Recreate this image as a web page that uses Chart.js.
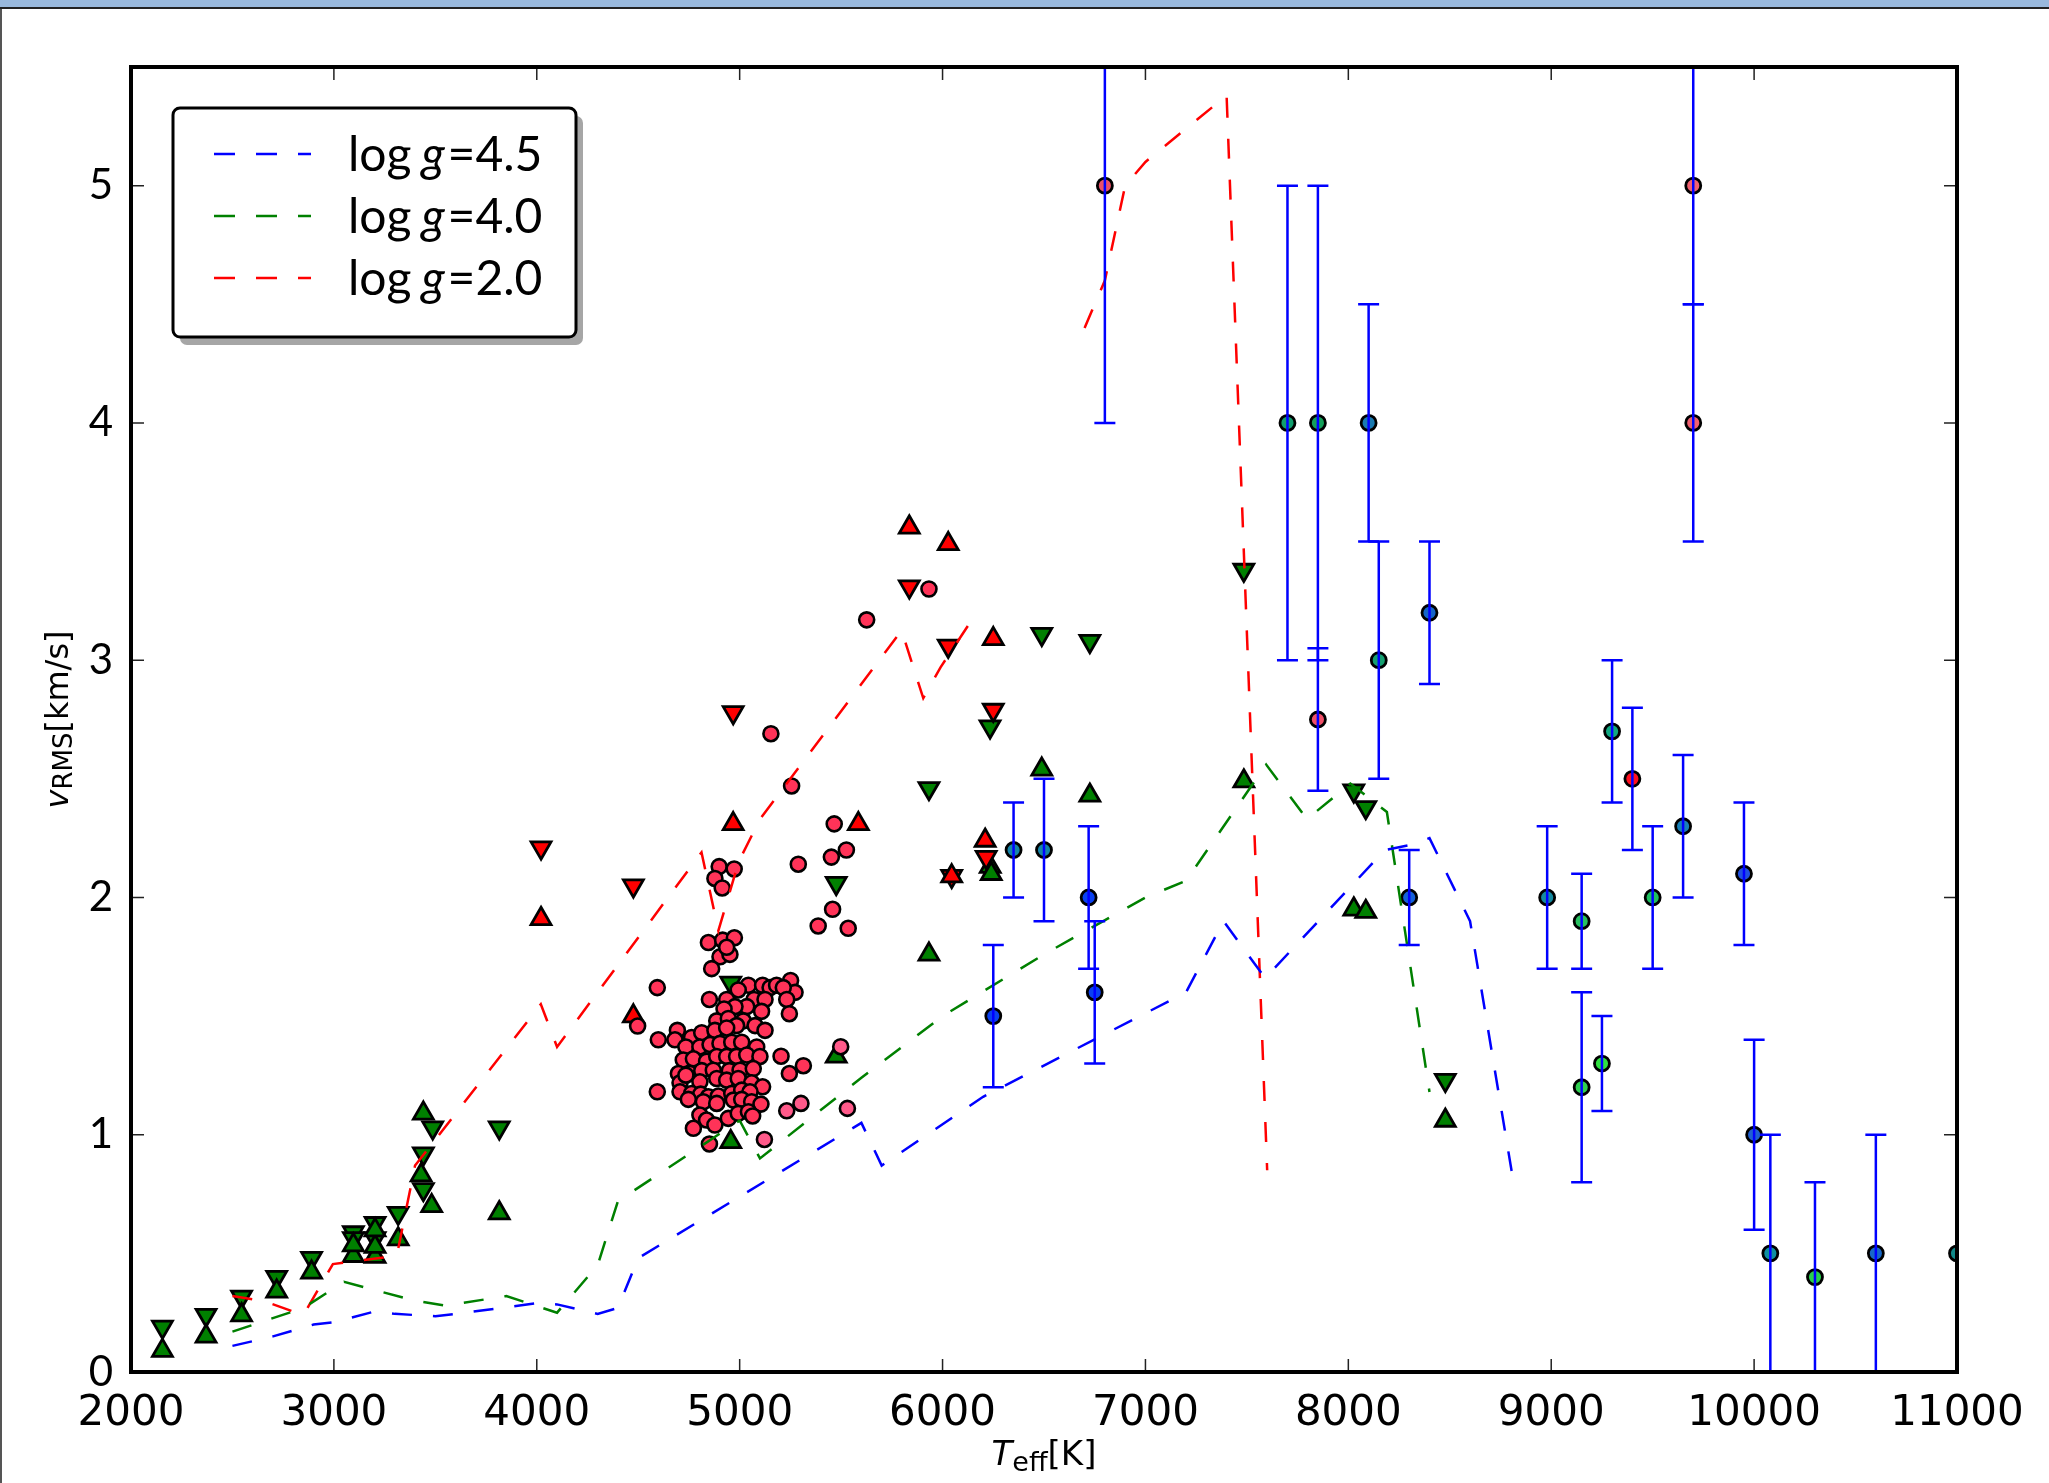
<!DOCTYPE html>
<html>
<head>
<meta charset="utf-8">
<script src="https://cdn.jsdelivr.net/npm/chart.js@4.4.1/dist/chart.umd.min.js"></script>
<style>
  html, body { margin: 0; padding: 0; background: #fff; }
  #wrap { position: relative; width: 2049px; height: 1483px; overflow: hidden; }
  #chart { position: absolute; left: 0; top: 0; }
  #topbar { position: absolute; left: 0; top: 0; width: 2049px; height: 7px; background: #99b9dd; border-bottom: 2px solid #222; }
  #leftbar { position: absolute; left: 0; top: 9px; width: 2px; height: 1474px; background: #555; }
</style>
</head>
<body>
<div id="wrap">
  <canvas id="chart" width="2049" height="1483"></canvas>
  <div id="topbar"></div>
  <div id="leftbar"></div>
</div>
<script>
// axis ticks
const xTicks = [2000, 3000, 4000, 5000, 6000, 7000, 8000, 9000, 10000, 11000];
const yTicks = [0, 1, 2, 3, 4, 5];

// model curves (Teff, vRMS)
const legendLabels = ['log g=4.5', 'log g=4.0', 'log g=2.0'];
const model45T = [2500, 2700, 2800, 2900, 3000, 3200, 3300, 3500, 3600, 4000, 4100, 4300, 4400, 4500, 5600, 5700, 6200, 7200, 7385, 7590, 8180, 8300, 8400, 8600, 8810];
const model45V = [0.11, 0.15, 0.175, 0.20, 0.21, 0.255, 0.245, 0.235, 0.245, 0.29, 0.285, 0.245, 0.27, 0.48, 1.05, 0.87, 1.16, 1.60, 1.90, 1.66, 2.20, 2.22, 2.25, 1.90, 0.82];
const model40T = [2500, 2850, 3050, 3400, 3550, 3850, 4100, 4300, 4400, 5000, 5100, 5600, 6000, 6500, 7000, 7200, 7595, 7796, 8010, 8190, 8400];
const model40V = [0.17, 0.27, 0.38, 0.30, 0.28, 0.32, 0.25, 0.45, 0.72, 1.06, 0.90, 1.24, 1.50, 1.76, 2.00, 2.07, 2.56, 2.33, 2.48, 2.36, 1.18];
const model20T = [2500, 2650, 2850, 2995, 3310, 3400, 4020, 4100, 4812, 4895, 4995, 5100, 5798, 5905, 5990, 6160, 6400, 6700, 6800, 6900, 7000, 7400, 7600];
const model20V = [0.32, 0.30, 0.24, 0.455, 0.49, 0.87, 1.55, 1.37, 2.19, 1.86, 2.15, 2.33, 3.125, 2.84, 2.97, 3.19, null, 4.40, 4.60, 5.00, 5.10, 5.38, 0.85];

// green triangles
const greenUpT = [2155, 2370, 2545, 2718, 2890, 3096, 3096, 3203, 3203, 3203, 3317, 3430, 3441, 3482, 3815, 4956, 5476, 5933, 6235, 6240, 6489, 6726, 7485, 8027, 8086, 8478];
const greenUpV = [0.09, 0.15, 0.24, 0.34, 0.42, 0.49, 0.535, 0.486, 0.528, 0.598, 0.56, 0.83, 1.09, 0.70, 0.67, 0.97, 1.33, 1.76, 2.13, 2.10, 2.54, 2.43, 2.49, 1.95, 1.94, 1.06];
const greenDownT = [2155, 2370, 2545, 2718, 2890, 3096, 3096, 3203, 3203, 3317, 3441, 3441, 3487, 3815, 4956, 5476, 5933, 6234, 6489, 6726, 7485, 8027, 8086, 8478];
const greenDownV = [0.19, 0.24, 0.317, 0.40, 0.48, 0.588, 0.563, 0.627, 0.563, 0.67, 0.92, 0.77, 1.03, 1.03, 1.64, 2.06, 2.46, 2.72, 3.11, 3.08, 3.38, 2.45, 2.38, 1.23];

// red triangles
const redUpT = [4021, 4476, 4968, 5585, 5836, 6028, 6045, 6210, 6250];
const redUpV = [1.91, 1.50, 2.31, 2.31, 3.56, 3.49, 2.09, 2.24, 3.09];
const redDownT = [4021, 4476, 4968, 5836, 6028, 6045, 6215, 6250];
const redDownV = [2.21, 2.05, 2.78, 3.31, 3.06, 2.09, 2.17, 2.79];

// red circles
const circT = [4846, 4916, 4974, 4903, 4952, 4936, 4862, 4594, 5043, 5113, 5150, 5182, 5251, 5273, 4993, 5215,
  4851, 4936, 5071, 5125, 5232, 5245, 5108, 5035, 4977, 4923, 4887, 4944, 5018, 5076, 5125, 4985,
  4693, 4599, 4681, 4763, 4813, 4878, 4936, 4735, 4804, 4854, 4903, 4961, 5010, 5084,
  4722, 4772, 4837, 4887, 4936, 4985, 5035, 5100, 4698, 4755, 4813, 4870, 4949, 5002, 5067,
  4706, 4735, 4804, 4887, 4936, 4993, 5059, 5113, 4706, 4763, 4808, 4846, 4895, 4961, 5010, 5051,
  4747, 4821, 4887, 4969, 5010, 5059, 5105, 4804, 4837, 4878, 4944, 4993, 5043, 5064, 4772, 4851,
  5204, 5314, 5245, 4594, 4497,
  4899, 4973, 4878, 4914, 5154, 5256, 5466, 5526, 5452, 5289, 5458, 5387, 5535, 5626, 5933];
const circV = [1.81, 1.82, 1.83, 1.75, 1.76, 1.79, 1.70, 1.62, 1.63, 1.63, 1.62, 1.63, 1.65, 1.60, 1.61, 1.62,
  1.57, 1.57, 1.57, 1.57, 1.57, 1.51, 1.52, 1.54, 1.54, 1.53, 1.48, 1.49, 1.48, 1.46, 1.44, 1.46,
  1.44, 1.40, 1.40, 1.41, 1.43, 1.44, 1.45, 1.37, 1.37, 1.38, 1.385, 1.39, 1.39, 1.37,
  1.315, 1.32, 1.31, 1.33, 1.33, 1.33, 1.336, 1.33, 1.258, 1.258, 1.27, 1.272, 1.27, 1.272, 1.279,
  1.219, 1.251, 1.223, 1.237, 1.23, 1.237, 1.219, 1.202, 1.181, 1.174, 1.171, 1.16, 1.163, 1.174, 1.188, 1.181,
  1.149, 1.139, 1.132, 1.146, 1.149, 1.139, 1.129, 1.083, 1.062, 1.041, 1.069, 1.09, 1.097, 1.079, 1.027, 0.961,
  1.331, 1.291, 1.258, 1.181, 1.458,
  2.13, 2.12, 2.08, 2.04, 2.69, 2.47, 2.31, 2.20, 2.17, 2.14, 1.95, 1.88, 1.87, 3.17, 3.30];
const pinkT = [5498, 5232, 5302, 5531, 5122];
const pinkV = [1.371, 1.101, 1.132, 1.111, 0.98];

// points with error bars
const errT = [6800, 7700, 7850, 7850, 8100, 8150, 8400, 8300, 6350, 6500, 6720, 6750, 6250, 8980, 9150, 9150, 9250, 9300, 9400, 9500, 9650, 9700, 9700, 9950, 10000, 10080, 10300, 10600, 11000];
const errV = [5.0, 4.0, 4.0, 2.75, 4.0, 3.0, 3.2, 2.0, 2.2, 2.2, 2.0, 1.6, 1.5, 2.0, 1.9, 1.2, 1.3, 2.7, 2.5, 2.0, 2.3, 5.0, 4.0, 2.1, 1.0, 0.5, 0.4, 0.5, 0.5];
const errLo = [4.0, 3.0, 3.0, 2.45, 3.5, 2.5, 2.9, 1.8, 2.0, 1.9, 1.7, 1.3, 1.2, 1.7, 1.7, 0.8, 1.1, 2.4, 2.2, 1.7, 2.0, 4.5, 3.5, 1.8, 0.6, 0.0, 0.0, 0.0, 0.5];
const errHi = [6.0, 5.0, 5.0, 3.05, 4.5, 3.5, 3.5, 2.2, 2.4, 2.5, 2.3, 1.9, 1.8, 2.3, 2.1, 1.6, 1.5, 3.0, 2.8, 2.3, 2.6, 5.5, 4.5, 2.4, 1.4, 1.0, 0.8, 1.0, 0.5];

const errColors = ['#e8506a', '#119e6e', '#14a05a', '#f05068', '#1a7ab0', '#16a070', '#1565c8', '#1560d8', '#1685a8', '#1685a8',
  '#0a40f0', '#0a40f0', '#0a40f0', '#158aa0', '#28c060', '#30d050', '#30e040', '#10a880', '#ff1020', '#20c060',
  '#1880b8', '#f06070', '#f06070', '#2050e0', '#2060d0', '#1090a0', '#28d050', '#1868c8', '#108888'];

const pts = (xs, ys) => xs.map((x, i) => ({ x: x, y: ys[i] }));

function modelLine(label, xs, ys, color) {
  return {
    label: label,
    data: pts(xs, ys),
    showLine: true,
    borderColor: color,
    borderWidth: 2.5,
    borderDash: [20, 21],
    pointRadius: 0,
    tension: 0,
    spanGaps: false,
    fill: false,
  };
}

function markers(xs, ys, style, rot, r, fillColor, bw) {
  return {
    data: pts(xs, ys),
    pointStyle: style,
    rotation: rot,
    pointRadius: r,
    backgroundColor: fillColor,
    borderColor: '#000',
    borderWidth: bw,
    clip: 0,
  };
}

// rich text: parts drawn one after another, centred on x
function drawParts(ctx, parts, x, y) {
  let total = 0;
  parts.forEach(p => {
    ctx.font = p.font;
    p.w = ctx.measureText(p.t).width;
    total += p.w + (p.gap || 0);
  });
  let cx = x - total / 2;
  parts.forEach(p => {
    ctx.font = p.font;
    ctx.fillText(p.t, cx, y + (p.dy || 0));
    cx += p.w + (p.gap || 0);
  });
}

const errorBars = {
  id: 'errorBars',
  afterDatasetsDraw(chart) {
    const ctx = chart.ctx, a = chart.chartArea;
    const xs = chart.scales.x, ys = chart.scales.y;
    ctx.save();
    ctx.beginPath();
    ctx.rect(a.left, a.top, a.right - a.left, a.bottom - a.top);
    ctx.clip();
    ctx.strokeStyle = '#0000ff';
    ctx.lineWidth = 2.5;
    for (let i = 0; i < errT.length; i++) {
      if (errHi[i] === errLo[i]) continue;
      const px = xs.getPixelForValue(errT[i]);
      const lo = ys.getPixelForValue(errLo[i]);
      const hi = ys.getPixelForValue(errHi[i]);
      ctx.beginPath();
      ctx.moveTo(px, lo); ctx.lineTo(px, hi);
      ctx.moveTo(px - 10.5, lo); ctx.lineTo(px + 10.5, lo);
      ctx.moveTo(px - 10.5, hi); ctx.lineTo(px + 10.5, hi);
      ctx.stroke();
    }
    ctx.restore();
  }
};

const frame = {
  id: 'frame',
  afterDraw(chart) {
    const ctx = chart.ctx, a = chart.chartArea;
    const xs = chart.scales.x, ys = chart.scales.y;
    ctx.save();
    // inward ticks on all four sides
    ctx.strokeStyle = '#222';
    ctx.lineWidth = 1.5;
    ctx.beginPath();
    xTicks.forEach(v => {
      const p = xs.getPixelForValue(v);
      ctx.moveTo(p, a.bottom); ctx.lineTo(p, a.bottom - 13);
      ctx.moveTo(p, a.top); ctx.lineTo(p, a.top + 13);
    });
    yTicks.forEach(v => {
      const p = ys.getPixelForValue(v);
      ctx.moveTo(a.left, p); ctx.lineTo(a.left + 13, p);
      ctx.moveTo(a.right, p); ctx.lineTo(a.right - 13, p);
    });
    ctx.stroke();
    ctx.strokeStyle = '#000';
    ctx.lineWidth = 4;
    ctx.strokeRect(a.left, a.top, a.right - a.left, a.bottom - a.top);

    // axis titles
    ctx.fillStyle = '#000';
    ctx.textBaseline = 'alphabetic';
    ctx.textAlign = 'left';
    drawParts(ctx, [
      { t: 'T', font: 'italic 34px "DejaVu Sans"' },
      { t: 'eff', font: '27px "DejaVu Sans"', dy: 6 },
      { t: '[K]', font: '34px "DejaVu Sans"' },
    ], (a.left + a.right) / 2, 1465);
    ctx.save();
    ctx.translate(68, (a.top + a.bottom) / 2);
    ctx.rotate(-Math.PI / 2);
    drawParts(ctx, [
      { t: 'v', font: 'italic 32px "DejaVu Sans"' },
      { t: 'RMS', font: '26px "DejaVu Sans"', dy: 4 },
      { t: '[km/s]', font: '32px "DejaVu Sans"' },
    ], 0, 0);
    ctx.restore();

    // legend box with shadow
    const bx = 173, by = 108, bw = 403, bh = 229;
    ctx.fillStyle = '#a6a6a6';
    ctx.beginPath(); ctx.roundRect(bx + 7, by + 8, bw, bh, 7); ctx.fill();
    ctx.fillStyle = '#fff';
    ctx.beginPath(); ctx.roundRect(bx, by, bw, bh, 7); ctx.fill();
    ctx.strokeStyle = '#000';
    ctx.lineWidth = 3;
    ctx.stroke();
    chart.data.datasets.slice(0, 3).forEach((ds, i) => {
      const ry = 154 + i * 62;
      ctx.strokeStyle = ds.borderColor;
      ctx.lineWidth = 2.5;
      ctx.setLineDash([21, 21]);
      ctx.beginPath(); ctx.moveTo(214, ry); ctx.lineTo(311, ry); ctx.stroke();
      ctx.setLineDash([]);
      const [fn, rest] = ds.label.split(' ');
      ctx.fillStyle = '#000';
      let tx = 348;
      ctx.font = '48px Lato';
      ctx.fillText(fn, tx, ry + 17);
      tx += ctx.measureText(fn).width + 10;
      ctx.font = 'italic 48px Lato';
      ctx.fillText(rest[0], tx, ry + 17);
      tx += ctx.measureText(rest[0]).width + 3;
      ctx.font = '48px Lato';
      ctx.fillText(rest.slice(1), tx, ry + 17);
    });
    ctx.restore();
  }
};

new Chart(document.getElementById('chart'), {
  type: 'scatter',
  data: {
    datasets: [
      modelLine(legendLabels[0], model45T, model45V, '#0000ff'),
      modelLine(legendLabels[1], model40T, model40V, '#008000'),
      modelLine(legendLabels[2], model20T, model20V, '#ff0000'),
      markers(errT, errV, 'circle', 0, 7.5, errColors, 2.8),
      markers(pinkT, pinkV, 'circle', 0, 7.5, '#ff5a8a', 2.6),
      markers(circT, circV, 'circle', 0, 7.5, '#ff3358', 2.6),
      markers(redUpT, redUpV, 'triangle', 0, 11.5, '#ff0000', 2.8),
      markers(redDownT, redDownV, 'triangle', 180, 11.5, '#ff0000', 2.8),
      markers(greenUpT, greenUpV, 'triangle', 0, 11.5, '#008000', 2.8),
      markers(greenDownT, greenDownV, 'triangle', 180, 11.5, '#008000', 2.8),
    ]
  },
  options: {
    responsive: false,
    animation: false,
    devicePixelRatio: 1,
    events: [],
    layout: { padding: { top: 67, right: 92, left: 0, bottom: 0 } },
    plugins: { legend: { display: false }, tooltip: { enabled: false } },
    scales: {
      x: {
        type: 'linear',
        min: 2000,
        max: 11000,
        grid: { display: false },
        border: { display: false },
        afterBuildTicks: (s) => { s.ticks = xTicks.map(v => ({ value: v })); },
        afterFit: (s) => { s.height = 111; },
        ticks: {
          autoSkip: false,
          maxRotation: 0,
          padding: 9,
          color: '#000',
          font: { family: 'DejaVu Sans', size: 42 },
          callback: (v) => String(v),
        },
      },
      y: {
        type: 'linear',
        min: 0,
        max: 5.5,
        grid: { display: false },
        border: { display: false },
        afterBuildTicks: (s) => { s.ticks = yTicks.map(v => ({ value: v })); },
        afterFit: (s) => { s.width = 131; },
        ticks: {
          autoSkip: false,
          padding: 10,
          color: '#000',
          font: { family: 'Lato', size: 42 },
          callback: (v) => String(v),
        },
      },
    },
  },
  plugins: [errorBars, frame],
});
</script>
</body>
</html>
